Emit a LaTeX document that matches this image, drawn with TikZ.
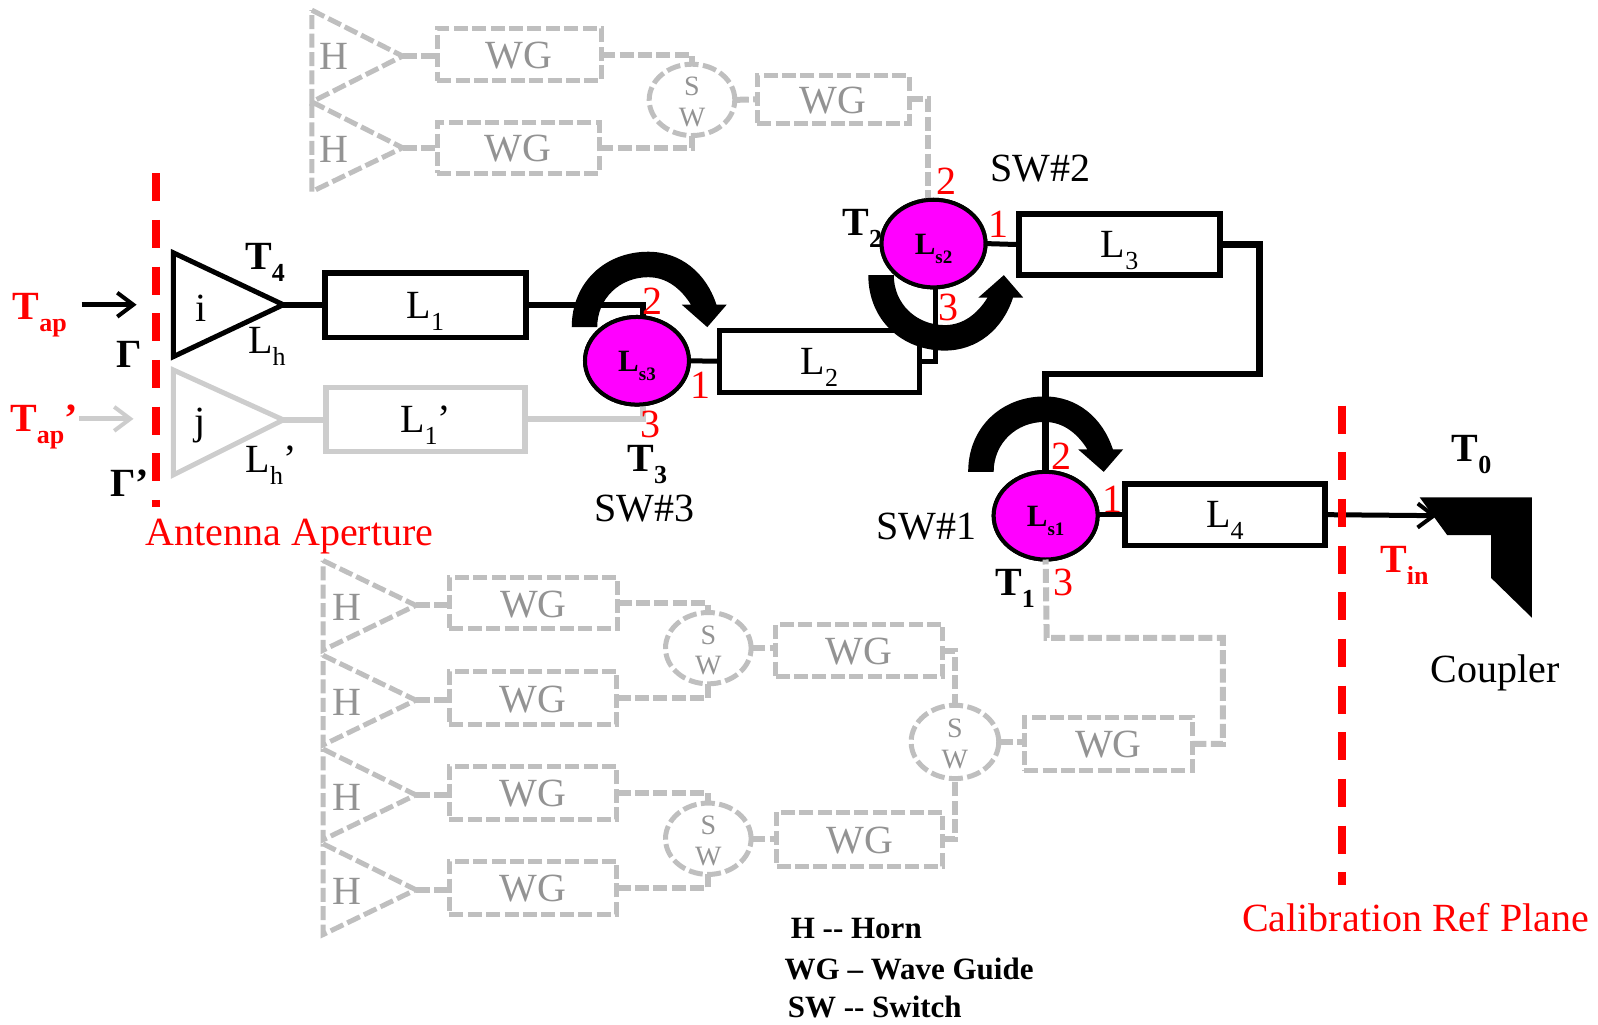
\documentclass[tikz,border=0pt]{standalone}
\usepackage{fontspec}
\setmainfont{Liberation Serif}
\usetikzlibrary{shapes.geometric,arrows.meta}
\newlength\ux \setlength\ux{0.5096pt}
\definecolor{gd}{HTML}{BFBFBF}
\definecolor{gs}{HTML}{CDCDCD}
\definecolor{mag}{HTML}{FF00FF}
\newcommand\mainsize{\fontsize{20}{22}\selectfont}
\newcommand\subx[1]{\raisebox{-0.3em}{\fontsize{13}{15}\selectfont #1}}
\newcommand\subl[1]{\raisebox{-0.3em}{\fontsize{9.5}{11}\selectfont #1}}
\newcommand\wgt{\raisebox{-0.5pt}[13pt][0pt]{WG}}
\newcommand\lowl[1]{\raisebox{0pt}[13pt][0pt]{#1}}
\tikzset{
  x=0.5096pt,y=-0.5096pt,
  txt/.style={inner sep=0,outer sep=0,font=\mainsize,text=black},
  redtxt/.style={txt,text=red},
  graytxt/.style={txt,text=gray!85},
  blk/.style={draw=black,line width=2.7pt,line join=miter},
  lgray/.style={draw=gs,line width=2.7pt},
  dgray/.style={draw=gd,line width=2.5pt,dash pattern=on 7pt off 2.2pt},
  dwire/.style={draw=gd,line width=3pt,dash pattern=on 7pt off 2.2pt},
  boxb/.style={blk,fill=white,inner sep=0,outer sep=0},
  boxl/.style={lgray,fill=white,inner sep=0,outer sep=0},
  boxd/.style={dgray,inner sep=0,outer sep=0,font=\mainsize,text=gray!85},
  sw/.style={ellipse,draw=black,line width=2pt,fill=mag,inner sep=0,outer sep=0,minimum width=102\ux,minimum height=86\ux},
  swd/.style={ellipse,dgray,inner sep=0,outer sep=0,minimum width=84\ux,minimum height=70\ux},
  wire/.style={draw=black,line width=2.5pt},
  redd/.style={draw=red,line width=4pt,dash pattern=on 14pt off 9.33pt},
  swlab/.style={inner sep=0,yshift=-5\ux,font=\fontsize{15.5}{18}\selectfont\bfseries},
  barb/.style={-{Straight Barb[length=8pt,width=12pt,line width=2pt]}},
  legend/.style={inner sep=0,outer sep=0,anchor=west,font=\fontsize{15.5}{18}\selectfont\bfseries},
}
\newcommand\rotarrow{%
  \fill[black] (561,321) .. controls (561,277) and (594,247) .. (636,247)
     .. controls (668,247) and (693,268) .. (703,299) -- (713,299) -- (694,321) -- (669,299) -- (678,299)
     .. controls (668,283) and (654,272) .. (636,272)
     .. controls (608,272) and (586,293) .. (586,321) -- cycle;}
\begin{document}
\begin{tikzpicture}
\useasboundingbox (0,0) rectangle (1568,1005);
% ---- red planes
\coordinate (pa) at (153,170); \coordinate (pb) at (153,497);
\coordinate (pc) at (1317,398); \coordinate (pd) at (1317,868);
% ---- top gray group
\coordinate (ht1) at (395,55); \coordinate (ht2) at (395,145);
\draw[dgray] (306,10) -- (ht1) -- (306,100) -- cycle;
\draw[dgray] (306,100) -- (ht2) -- (306,188) -- cycle;
\node[graytxt] (th1) at (328,55) {H};
\node[graytxt] (th2) at (328,147) {H};
\node[boxd,minimum width=161\ux,minimum height=51\ux] (tw1) at (509.5,53.5) {\wgt};
\node[boxd,minimum width=159\ux,minimum height=50\ux] (tw2) at (508.5,145) {\wgt};
\node[swd] (tsw) at (679,98) {};
\node[graytxt,font=\fontsize{14}{16}\selectfont] (tss) at (679,85) {S};
\node[graytxt,font=\fontsize{14}{16}\selectfont] (tsv) at (679,115) {W};
\node[boxd,minimum width=149\ux,minimum height=47\ux] (tw3) at (817.5,97.5) {\wgt};
\draw[dwire] (ht1) -- (tw1.west |- ht1);
\draw[dwire] (ht2) -- (tw2.west |- ht2);
\draw[dwire] (tw1.east) -| (tsw.north);
\draw[dwire] (tw2.east) -| (tsw.south);
\draw[dwire] (tsw.east) -- (tw3.west);
% ---- switches
\node[sw] (s2) at (916,239) {};
\node[sw] (s3) at (625,354) {};
\node[sw] (s1) at (1026,506) {};
\draw[dwire] (tw3.east) -| (911,197);
% ---- main path
\coordinate (ti) at (278,299);
\coordinate (tj) at (278,412);
\draw[blk,line width=2.5pt] (170,248) -- (ti) -- (170,350) -- cycle;
\draw[draw=gs,line width=2.5pt] (170,363) -- (tj) -- (170,466) -- cycle;
\node[boxb,minimum width=197\ux,minimum height=63\ux] (L1) at (417.5,299.5) {};
\node[boxl,minimum width=195\ux,minimum height=63\ux] (L1p) at (417.5,411.5) {};
\node[boxb,minimum width=196\ux,minimum height=61\ux] (L2) at (804,354.5) {};
\node[boxb,minimum width=197\ux,minimum height=60\ux] (L3) at (1098.5,240) {};
\node[boxb,minimum width=196\ux,minimum height=60\ux] (L4) at (1202,505) {};
\draw[wire,line width=3.2pt] (ti) -- (ti -| L1.west);
\draw[draw=gs,line width=3.2pt] (tj) -- (tj -| L1p.west);
\draw[wire,line width=3pt] (L1.east) -| (631,312);
\draw[draw=gs,line width=3pt] (L1p.east) -| (631,397);
\draw[wire] (s3.east) -- (L2.west);
\draw[wire] (L2.east) -| (918,282);
\draw[wire] (s2.east) -- (L3.west);
\coordinate (c3a) at (1236,240); \coordinate (c3b) at (1236,367); \coordinate (c3c) at (1026,367);
\draw[wire,line width=3.2pt] (L3.east) -- (c3a) -- (c3b) -- (c3c) -- (s1.north);
\draw[wire] (s1.east |- L4.west) -- (L4.west);
% ---- rotation arrows
\rotarrow
\begin{scope}[shift={(389,142)}]\rotarrow\end{scope}
\begin{scope}[shift={(291,591)},yscale=-1]\rotarrow\end{scope}
% re-draw switch tops
\node[sw] at (s2) {}; \node[sw] at (s3) {}; \node[sw] at (s1) {};
\draw[wire] (1026,430) -- (s1.north);
\draw[wire] (918,282) -- (918,340);
% ---- labels on switches
\node[swlab] (ls2) at (s2) {L\subl{s2}};
\node[swlab] (ls3) at (s3) {L\subl{s3}};
\node[swlab] (ls1) at (s1) {L\subl{s1}};
% ---- output
\coordinate (arr) at (1410,506);
\draw[wire,barb] (L4.east) -- (arr);
\fill[black] (1393,488) -- (1503,488) -- (1503,606) -- (1463,567) -- (1463,525) -- (1420,525) -- cycle;
\draw[redd] (pa) -- (pb);
\draw[redd] (pc) -- (pd);
% ---- input arrows
\coordinate (ia1) at (80,299); \coordinate (ia2) at (134,299);
\coordinate (ib1) at (78,411); \coordinate (ib2) at (131,411);
\draw[wire,barb] (ia1) -- (ia2);
\draw[draw=gs,line width=2.5pt,barb] (ib1) -- (ib2);
% ---- main labels
\node[txt] (li) at (197,302) {i};
\node[txt] (lj) at (196,418) {j};
\node[txt,font=\mainsize\bfseries] (t4) at (260,257) {T\subx{4}};
\node[txt] (lh) at (262,340) {L\subx{h}};
\node[txt] (lhp) at (266,456) {L\subx{h}’};
\node[txt] at (L1) {\lowl{L\subx{1}}};
\node[txt] at (L1p) {\lowl{L\subx{1}’}};
\node[txt] at (L2) {\lowl{L\subx{2}}};
\node[txt] at (L3) {\lowl{L\subx{3}}};
\node[txt] at (L4) {\lowl{L\subx{4}}};
\node[redtxt,font=\mainsize\bfseries] (tap) at (39,309) {T\subx{ap}};
\node[redtxt,font=\mainsize\bfseries] (tapp) at (43,419) {T\subx{ap}’};
\node[txt,font=\mainsize\bfseries] (gam) at (127,348) {Γ};
\node[txt,font=\mainsize\bfseries] (gamp) at (127,474) {Γ’};
\node[redtxt] (aa) at (284,526) {Antenna Aperture};
\node[redtxt] (cal) at (1389,900) {Calibration Ref Plane};
\node[txt,font=\mainsize\bfseries] (t3) at (635,456) {T\subx{3}};
\node[txt] (sw3) at (632,499) {SW\#3};
\node[txt,font=\mainsize\bfseries] (t2) at (846,224) {T\subx{2}};
\node[txt] (sw2) at (1021,165) {SW\#2};
\node[txt] (sw1) at (909,517) {SW\#1};
\node[txt,font=\mainsize\bfseries] (t1) at (996,577) {T\subx{1}};
\node[txt,font=\mainsize\bfseries] (t0) at (1444,446) {T\subx{0}};
\node[redtxt,font=\mainsize\bfseries] (tin) at (1378,555) {T\subx{in}};
\node[txt] (cpl) at (1467,660) {Coupler};
\node[redtxt] (n32) at (640,296) {2};
\node[redtxt] (n31) at (687,378) {1};
\node[redtxt] (n33) at (638,416) {3};
\node[redtxt] (n22) at (929,178) {2};
\node[redtxt] (n21) at (980,220) {1};
\node[redtxt] (n23) at (931,302) {3};
\node[redtxt] (n12) at (1042,448) {2};
\node[redtxt] (n11) at (1092,490) {1};
\node[redtxt] (n13) at (1044,572) {3};
% ---- lower gray group
\foreach \n/\ya/\yb/\yc in {1/550/594/638,2/643/687/731,3/735/780/824,4/828/873/917}{
  \coordinate (lt\n) at (408,\yb);
  \draw[dgray] (317,\ya) -- (lt\n) -- (317,\yc) -- cycle;
  \node[graytxt] (lh\n) at (340,\yb+2) {H};
}
\node[boxd,minimum width=165\ux,minimum height=50\ux] (bw1) at (523.5,592) {\wgt};
\node[boxd,minimum width=164\ux,minimum height=52\ux] (bw2) at (523,685) {\wgt};
\node[boxd,minimum width=164\ux,minimum height=52\ux] (bw3) at (523,778) {\wgt};
\node[boxd,minimum width=164\ux,minimum height=52\ux] (bw4) at (523,871) {\wgt};
\foreach \n in {1,2,3,4}{\draw[dwire] (lt\n) -- (lt\n -| bw\n.west);}
\node[swd] (bs1) at (695,636) {};
\node[swd] (bs2) at (695,823) {};
\node[swd,minimum width=86\ux,minimum height=72\ux] (bs3) at (937,728) {};
\foreach \c in {bs1,bs2,bs3}{
  \node[graytxt,font=\fontsize{14}{16}\selectfont] at ([yshift=13\ux]\c) {S};
  \node[graytxt,font=\fontsize{14}{16}\selectfont] at ([yshift=-17\ux]\c) {W};
}
\node[boxd,minimum width=164\ux,minimum height=51\ux] (bw5) at (843,638.5) {\wgt};
\node[boxd,minimum width=163\ux,minimum height=53\ux] (bw6) at (843.5,823.5) {\wgt};
\node[boxd,minimum width=165\ux,minimum height=52\ux] (bw7) at (1087.5,730) {\wgt};
\draw[dwire] (bw1.east) -| (bs1.north);
\draw[dwire] (bw2.east) -| (bs1.south);
\draw[dwire] (bw3.east) -| (bs2.north);
\draw[dwire] (bw4.east) -| (bs2.south);
\draw[dwire] (bs1.east) -- (bs1.east -| bw5.west);
\draw[dwire] (bs2.east) -- (bs2.east -| bw6.west);
\draw[dwire] (bw5.east) -| (bs3.north);
\draw[dwire] (bw6.east) -| (bs3.south);
\draw[dwire] (bs3.east) -- (bs3.east -| bw7.west);
\coordinate (rr1) at (1200,730); \coordinate (rr2) at (1200,626); \coordinate (rr3) at (1027,626);
\draw[dwire] (bw7.east) -- (rr1) -- (rr2) -- (rr3) -- (s1.south);
% ---- legend
\node[legend] (leg1) at (776,911) {H {-}{-} Horn};
\node[legend] (leg2) at (770,951) {WG – Wave Guide};
\node[legend] (leg3) at (773,988) {SW {-}{-} Switch};
\end{tikzpicture}
\end{document}
